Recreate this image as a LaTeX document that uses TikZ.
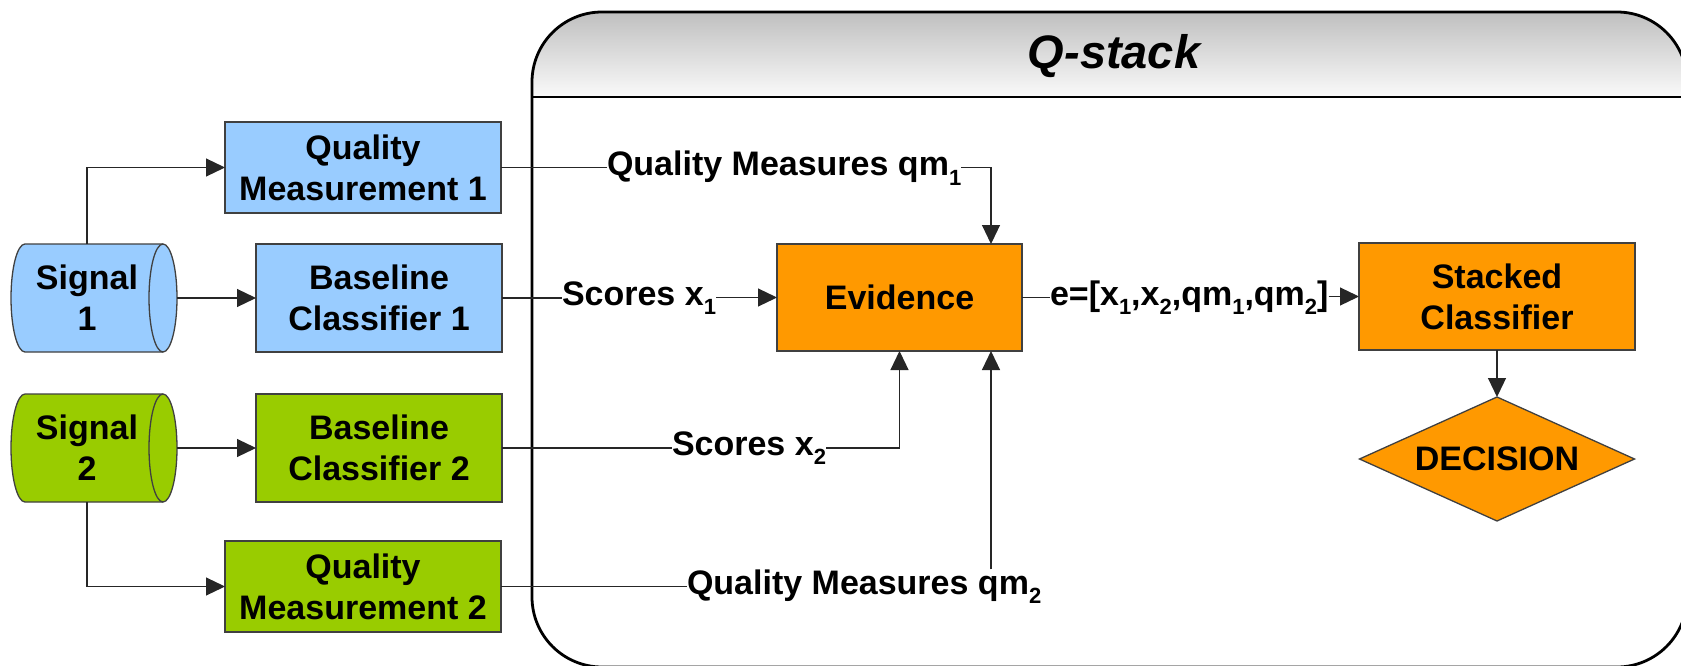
\documentclass[tikz,border=0pt]{standalone}
\usepackage{fontspec}
\setmainfont{Liberation Sans}
\usetikzlibrary{arrows.meta,shapes.geometric,backgrounds}

\definecolor{sigblue}{HTML}{99CCFF}
\definecolor{siggreen}{HTML}{99CC00}
\definecolor{stackorange}{HTML}{FF9900}

% lowered index, as in qm_1
\newcommand{\lowsub}[1]{\raisebox{-0.28em}{\fontsize{22}{22}\selectfont\bfseries #1}}

% horizontal drum drawn round a text node
\newcommand{\drumshape}[2]{%
  \begin{pgfonlayer}{background}
    \filldraw[fill=#2, draw=black!75, line width=1.3pt]
      ([xshift=14pt]#1.north west) -- (#1.north east)
      arc[start angle=90, end angle=-90, x radius=14pt, y radius=54pt]
      -- ([xshift=14pt]#1.south west)
      arc[start angle=-90, end angle=-270, x radius=14pt, y radius=54pt] -- cycle;
    \draw[black!75, line width=1.3pt] (#1.north east)
      arc[start angle=90, end angle=270, x radius=14pt, y radius=54pt];
  \end{pgfonlayer}}

\tikzset{
  txt/.style={font=\fontsize{34}{41}\selectfont\bfseries, align=center,
    inner sep=0pt, outer sep=0pt},
  blk/.style={txt, draw=black!75, line width=1.3pt},
  wire/.style={draw=black!85, line width=1.2pt},
  arr/.style={wire, -{Triangle[length=19pt,width=18pt]}},
}

\begin{document}
\begin{tikzpicture}[x=1pt, y=-1pt]
  \useasboundingbox (0,0) rectangle (1681,666);
  \begin{pgfonlayer}{background}
    \fill[white] (0,0) rectangle (1681,666);
  \end{pgfonlayer}
  \clip (0,0) rectangle (1681,666);

  % Q-stack container with shaded header
  \begin{scope}
    \clip[rounded corners=70pt] (532,12) rectangle (1687,667);
    \shade[top color=black!25, bottom color=black!2] (532,12) rectangle (1687,97);
  \end{scope}
  \draw[line width=2.8pt, rounded corners=70pt] (532,12) rectangle (1687,667);
  \draw[line width=2.8pt] (532,97) -- (1687,97);
  \node[font=\fontsize{47}{56}\selectfont\bfseries\itshape, anchor=base,
        inner sep=0pt] (title) at (1114,69) {Q-stack};

  % signals
  \node[txt, minimum width=152pt, minimum height=108pt] (sig1) at (87,298) {Signal\\1};
  \drumshape{sig1}{sigblue}
  \node[txt, minimum width=152pt, minimum height=108pt] (sig2) at (87,448) {Signal\\2};
  \drumshape{sig2}{siggreen}
  \coordinate (sig1out) at ([xshift=14pt]sig1.east);
  \coordinate (sig2out) at ([xshift=14pt]sig2.east);

  % first-stage blocks
  \node[blk, fill=sigblue, minimum width=276pt, minimum height=91pt] (qm1) at (363,167.5) {Quality\\Measurement 1};
  \node[blk, fill=sigblue, minimum width=246pt, minimum height=108pt] (bl1) at (379,298) {Baseline\\Classifier 1};
  \node[blk, fill=siggreen, minimum width=246pt, minimum height=108pt] (bl2) at (379,448) {Baseline\\Classifier 2};
  \node[blk, fill=siggreen, minimum width=276pt, minimum height=91pt] (qm2) at (363,586.5) {Quality\\Measurement 2};

  % stacking stage
  \node[blk, fill=stackorange, minimum width=245pt, minimum height=107pt] (ev) at (899.5,297.5) {Evidence};
  \node[blk, fill=stackorange, minimum width=276pt, minimum height=107pt] (sc) at (1497,296.5) {Stacked\\Classifier};
  \node[blk, diamond, fill=stackorange, minimum width=275pt, minimum height=124pt,
        aspect=2.2] (dec) at (1497,459) {DECISION};

  % connector labels
  \node[txt, anchor=west] (lqm1) at (607,168) {Quality Measures qm\lowsub{1}};
  \node[txt, anchor=west] (lsx1) at (562,298) {Scores x\lowsub{1}};
  \node[txt, anchor=west] (lsx2) at (672,448) {Scores x\lowsub{2}};
  \node[txt, anchor=west] (lqm2) at (687,586.5) {Quality Measures qm\lowsub{2}};
  \node[txt, anchor=west] (le) at (1050,297.5) {e=[x\lowsub{1},x\lowsub{2},qm\lowsub{1},qm\lowsub{2}]};

  % connectors
  \draw[arr] (sig1.north) |- (qm1.west);
  \draw[arr] (sig1out) -- (bl1.west);
  \draw[arr] (sig2out) -- (bl2.west);
  \draw[arr] (sig2.south) |- (qm2.west);

  \draw[wire] (qm1.east) -- (lqm1.west |- qm1.east);
  \draw[arr] (lqm1.east |- qm1.east) -| ([xshift=-31pt]ev.north east);

  \draw[wire] (bl1.east) -- (lsx1.west |- bl1.east);
  \draw[arr] (lsx1.east |- ev.west) -- (ev.west);

  \draw[wire] (bl2.east) -- (lsx2.west |- bl2.east);
  \draw[arr] (lsx2.east |- bl2.east) -| (ev.south);

  \draw[wire] (qm2.east) -- (lqm2.west |- qm2.east);
  \draw[arr] (lqm2.north -| ev.south east) ++(-31pt,0) -- ([xshift=-31pt]ev.south east);

  \draw[wire] (ev.east) -- (le.west |- ev.east);
  \draw[arr] (le.east |- sc.west) -- (sc.west);

  \draw[arr] (sc.south) -- (dec.north);
\end{tikzpicture}
\end{document}
